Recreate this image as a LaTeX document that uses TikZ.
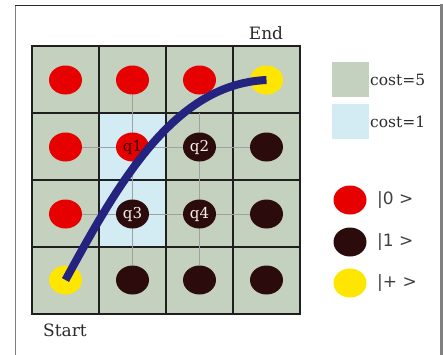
\documentclass[tikz,border=0pt]{standalone}
\usepackage{fontspec}
\newfontfamily\ketfont{DejaVu Sans}
\newfontfamily\labfont{DejaVu Serif}
\usetikzlibrary{shapes.geometric,backgrounds}
\definecolor{cellgreen}{HTML}{C4D1BE}
\definecolor{cellblue}{HTML}{D3EBF3}
\definecolor{qred}{HTML}{E60000}
\definecolor{qdark}{HTML}{2B0B0B}
\definecolor{qyellow}{HTML}{FFE600}
\definecolor{pathblue}{HTML}{242480}
\definecolor{linkgray}{HTML}{A0A0A0}
\definecolor{kettext}{HTML}{404040}
\definecolor{labtext}{HTML}{2A2A2A}
\begin{document}
\begin{tikzpicture}[x=1pt,y=-1pt,
  qubit/.style={ellipse,inner sep=0pt,minimum width=33pt,minimum height=29pt},
  zero/.style={qubit,fill=qred,text=black!80!red},
  one/.style={qubit,fill=qdark,text=white!90!brown},
  plus/.style={qubit,fill=qyellow},
  qtext/.style={font=\labfont\fontsize{15}{18}\selectfont},
  link/.style={draw=linkgray,line width=1pt},
  gridline/.style={draw=black!88,line width=2pt},
  lbl/.style={font=\labfont\fontsize{17}{20}\selectfont,text=labtext,inner sep=0pt},
  costlbl/.style={font=\labfont\fontsize{15.5}{18}\selectfont,text=labtext,inner sep=0pt,anchor=west},
  ket/.style={font=\ketfont\fontsize{17}{20}\selectfont,text=kettext,inner sep=0pt,anchor=west},
  swatch/.style={minimum width=37pt,minimum height=35pt,inner sep=0pt}]
\useasboundingbox (0,0) rectangle (443,354);
% frame
\draw[line width=1pt,gray] (15.5,360) -- (15.5,5.5);
\draw[line width=1pt,black!85] (15,5.5) -- (441,5.5);
\draw[line width=3pt,gray] (441.5,4) -- (441.5,360);
% qubits
\foreach \r/\y in {1/80,2/147,3/214,4/280}{
  \foreach \c/\x in {1/65.5,2/132.5,3/199.5,4/266.5}{
    \coordinate (p\r\c) at (\x,\y);
  }
}
\node[zero] (c11) at (p11) {};
\node[zero] (c12) at (p12) {};
\node[zero] (c13) at (p13) {};
\node[plus] (c14) at (p14) {};
\node[zero] (c21) at (p21) {};
\node[zero,qtext] (c22) at (p22) {q1};
\node[one,qtext] (c23) at (p23) {q2};
\node[one] (c24) at (p24) {};
\node[zero] (c31) at (p31) {};
\node[one,qtext] (c32) at (p32) {q3};
\node[one,qtext] (c33) at (p33) {q4};
\node[one] (c34) at (p34) {};
\node[plus] (c41) at (p41) {};
\node[one] (c42) at (p42) {};
\node[one] (c43) at (p43) {};
\node[one] (c44) at (p44) {};
\coordinate (top3) at (199.5,113);
\begin{scope}[on background layer]
  \foreach \i in {0,1,2,3}{
    \foreach \j in {0,1,2,3}{
      \fill[cellgreen] (32+67*\i,46+67*\j) rectangle +(67,67);
    }
  }
  \fill[cellblue] (99,113) rectangle (166,247);
  \foreach \k in {0,1,2,3,4}{
    \draw[gridline] (32+67*\k,45) -- (32+67*\k,315);
    \draw[gridline] (31,46+67*\k) -- (301,46+67*\k);
  }
  \draw[link] (c12) -- (c42);
  \draw[link] (top3) -- (c43);
  \draw[link] (c21) -- (c24);
  \draw[link] (c31) -- (c34);
\end{scope}
% path
\draw[pathblue,line width=8pt] (c41.center) .. controls (120,180) and (175,84) .. (c14.center);
% labels
\node[lbl] (endl) at (266,33) {End};
\node[lbl] (startl) at (65,330) {Start};
% legend
\node[swatch,fill=cellgreen] (s5) at (350.5,79.5) {};
\node[swatch,fill=cellblue] (s1) at (350.5,121.5) {};
\node[costlbl] (t5) at (370,80) {cost=5};
\node[costlbl] (t1) at (370,122) {cost=1};
\node[zero] (l0) at (350,200) {};
\node[one] (l1) at (350,242) {};
\node[plus] (lp) at (350,283) {};
\node[ket] (k0) at (377,200) {|0 >};
\node[ket] (k1) at (377,242) {|1 >};
\node[ket] (kp) at (377,283) {|+ >};
\end{tikzpicture}
\end{document}
